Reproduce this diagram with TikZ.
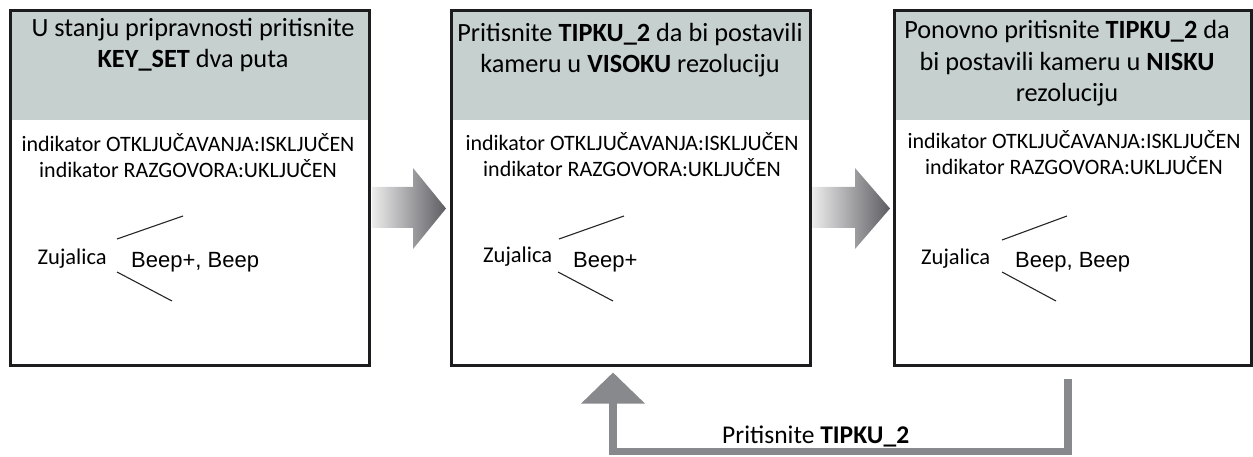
\documentclass[tikz,border=0pt]{standalone}
\usepackage{fontspec}
\setmainfont{Carlito}
\newfontfamily\arialf{Liberation Sans}
\usetikzlibrary{arrows.meta,calc}
\definecolor{hdr}{RGB}{198,208,206}
\definecolor{bord}{RGB}{28,28,30}
\definecolor{arrL}{RGB}{236,236,236}
\definecolor{arrD}{RGB}{92,92,98}
\definecolor{retc}{RGB}{136,137,141}
\tikzset{
  statebox/.style={draw=bord, line width=3pt, inner sep=0pt, minimum height=354.5pt,
    path picture={\fill[hdr] (path picture bounding box.north west) rectangle ([yshift=-110pt]path picture bounding box.north east);}},
  hdrtext/.style={align=center, inner sep=0pt, anchor=base, font=\fontsize{26.3}{31.5}\selectfont},
  indtext/.style={align=center, inner sep=0pt, anchor=base, font=\fontsize{22}{26}\selectfont},
  zujtext/.style={inner sep=0pt, anchor=base west, font=\fontsize{22.5}{26}\selectfont},
  beeptext/.style={inner sep=0pt, anchor=base west, font=\arialf\fontsize{22}{26}\selectfont},
  wire/.style={draw=black!85, line width=1.1pt},
  fatarrow/.style={left color=arrL, right color=arrD},
  retarrow/.style={draw=retc, line width=7.5pt, line join=miter, -{Triangle[width=62pt,length=31pt]}},
}
\begin{document}
\begin{tikzpicture}[x=1pt,y=-1pt]
\useasboundingbox (0,0) rectangle (1253,457);
% boxes
\node[statebox, minimum width=359pt] (b1) at (190,187.75) {};
\node[statebox, minimum width=359pt] (b2) at (631,187.75) {};
\node[statebox, minimum width=357pt] (b3) at (1072.5,187.75) {};
% headers
\node[hdrtext] (h1) at (193,68) {U stanju pripravnosti pritisnite\\ \textbf{KEY\_SET} dva puta};
\node[hdrtext] (h2) at (630,73) {Pritisnite \textbf{TIPKU\_2} da bi postavili\\ kameru u \textbf{VISOKU} rezoluciju};
\node[hdrtext] (h3) at (1067,102) {Ponovno pritisnite \textbf{TIPKU\_2} da\\ bi postavili kameru u \textbf{NISKU}\\ rezoluciju};
% indicators
\node[indtext] (i1) at (188,178) {indikator OTKLJUČAVANJA:ISKLJUČEN\\ indikator RAZGOVORA:UKLJUČEN};
\node[indtext] (i2) at (632,177) {indikator OTKLJUČAVANJA:ISKLJUČEN\\ indikator RAZGOVORA:UKLJUČEN};
\node[indtext] (i3) at (1074,175) {indikator OTKLJUČAVANJA:ISKLJUČEN\\ indikator RAZGOVORA:UKLJUČEN};
% buzzer
\node[zujtext] (z1) at (37.5,265) {Zujalica};
\node[beeptext] (p1) at (131,268) {Beep+, Beep};
\draw[wire] (117,239) -- (183,216);
\draw[wire] (117,272) -- (172,301);
\node[zujtext] (z2) at (483,262) {Zujalica};
\node[beeptext] (p2) at (573,268) {Beep+};
\draw[wire] (559,239) -- (624,216);
\draw[wire] (558,272) -- (613,301);
\node[zujtext] (z3) at (921,265) {Zujalica};
\node[beeptext] (p3) at (1015,268) {Beep, Beep};
\draw[wire] (1002,240) -- (1067,216);
\draw[wire] (1002,272) -- (1056,301);
% fat arrows
\shade[fatarrow] (372,187) -- (413,187) -- (413,168) -- (446,208.5) -- (413,249) -- (413,228) -- (372,228) -- cycle;
\shade[fatarrow] (812,187) -- (855,187) -- (855,168) -- (890,208.5) -- (855,249) -- (855,228) -- (812,228) -- cycle;
% return arrow
\coordinate (rs) at ($(b3.south)+(-4.5,12)$);
\coordinate (re) at ($(b2.south)+(-18,6)$);
\draw[retarrow] (rs) -- ++(0,73) -| (re);
\node[inner sep=0pt, anchor=base west, font=\fontsize{25.5}{28}\selectfont] (lbl) at (722,443) {Pritisnite \textbf{TIPKU\_2}};
\end{tikzpicture}
\end{document}
